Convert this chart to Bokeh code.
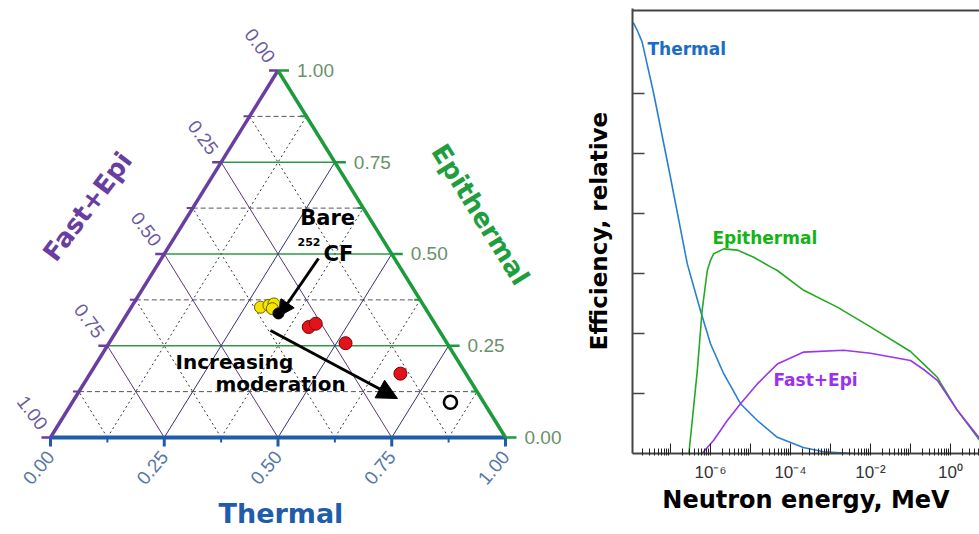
import numpy as np
from bokeh.plotting import figure
from bokeh.layouts import row
from bokeh.models import (Range1d, FixedTicker, CustomJSTickFormatter, Arrow,
                          NormalHead, Span, Label, LinearAxis, Title)
from bokeh.core.properties import value
from bokeh.embed import file_html
from bokeh.resources import INLINE

# ---------------- data ----------------
# ternary composition (fractions; fast+epi = 1 - thermal - epithermal)
yellow_thermal = [0.284, 0.300, 0.309, 0.312]
yellow_epithermal = [0.355, 0.360, 0.364, 0.351]
bare_thermal = [0.332]
bare_epithermal = [0.338]
red_thermal = [0.417, 0.428, 0.520, 0.682]
red_epithermal = [0.301, 0.310, 0.257, 0.174]
open_thermal = [0.831]
open_epithermal = [0.096]

tern_major = [0.0, 0.25, 0.5, 0.75, 1.0]
tern_major_labels = ["0.00", "0.25", "0.50", "0.75", "1.00"]
tern_minor = [0.125, 0.375, 0.625, 0.875]

# efficiency curves: log10(E / MeV) and relative efficiency
thermal_log_e = [-7.93, -7.83, -7.71, -7.42, -7.00, -6.58, -6.25, -6.00, -5.67,
                 -5.25, -4.83, -4.33, -3.68, -3.18, -2.43]
thermal_eff = [7.18, 7.05, 6.86, 6.00, 4.60, 3.16, 2.38, 1.83, 1.33,
               0.83, 0.55, 0.27, 0.10, 0.03, 0.0]
epi_log_e = [-6.54, -6.33, -6.21, -6.08, -6.00, -5.92, -5.67, -5.33, -4.92, -4.50,
             -4.33, -3.67, -2.83, -2.00, -1.00, -0.67, -0.33, 0.17, 0.73]
epi_eff = [0.0, 1.38, 2.38, 3.05, 3.22, 3.33, 3.41, 3.39, 3.27, 3.11,
           3.05, 2.72, 2.44, 2.11, 1.70, 1.49, 1.27, 0.72, 0.22]
fast_log_e = [-6.21, -5.92, -5.58, -5.25, -4.83, -4.33, -3.67, -2.67, -2.00,
              -1.00, -0.67, -0.33, 0.17, 0.73]
fast_eff = [0.0, 0.22, 0.55, 0.83, 1.16, 1.49, 1.69, 1.72, 1.67,
            1.55, 1.40, 1.22, 0.72, 0.25]

eff_ticks = [1, 2, 3, 4, 5, 6]
energy_label_exps = [-6, -4, -2, 0]
energy_labels = ["10\u207b\u2076", "10\u207b\u2074", "10\u207b\u00b2", "10\u2070"]
energy_unlabeled_exps = [-7, -5, -3, -1]
energy_all_exps = [-8, -7, -6, -5, -4, -3, -2, -1, 0]

# ---------------- layout constants ----------------
H = 534
TOP, BOTTOM = 8, 81            # frame borders shared by both plots (row aligns frames)
FRAME_H = H - TOP - BOTTOM

# ---------------- ternary figure ----------------
W1 = 575
XR = (-0.10989, 1.15385)
YR = (-0.0436, 1.1689)
DX = (XR[1] - XR[0]) / W1
DY = (YR[1] - YR[0]) / FRAME_H

p1 = figure(width=W1, height=H, x_range=Range1d(*XR), y_range=Range1d(*YR),
            x_axis_location=None, y_axis_location=None, toolbar_location=None,
            output_backend="svg", min_border_left=0, min_border_right=0,
            min_border_top=TOP, min_border_bottom=BOTTOM)
p1.outline_line_color = None
p1.grid.visible = False


def txy(t, e):
    t = np.asarray(t, float)
    e = np.asarray(e, float)
    return t + 0.5 * e, e


mn = np.array(tern_minor)
inner = np.array(tern_major[1:-1])
zm = np.zeros_like(mn)
zi = np.zeros_like(inner)

# minor grid
p1.segment(0.5 * mn, mn, 1 - 0.5 * mn, mn, line_color="#555555", line_dash="5 3", line_width=1)
p1.segment(mn, zm, 0.5 + 0.5 * mn, 1 - mn, line_color="#333333", line_dash="2 3", line_width=1)
p1.segment(1 - mn, zm, 0.5 * (1 - mn), 1 - mn, line_color="#333333", line_dash="2 3", line_width=1)
# major grid
p1.segment(0.5 * inner, inner, 1 - 0.5 * inner, inner, line_color="#2e9a46", line_width=1.5)
p1.segment(inner, zi, 0.5 + 0.5 * inner, 1 - inner, line_color="#34347a", line_width=1)
p1.segment(1 - inner, zi, 0.5 * (1 - inner), 1 - inner, line_color="#5a357f", line_width=1)

# edges
C_TH, C_EPI, C_FAST = "#1f5cab", "#1c9a3c", "#6a3ea1"
p1.line([0, 1], [0, 0], line_color=C_TH, line_width=4)
p1.line([0, 0.5], [0, 1], line_color=C_FAST, line_width=3.5)
p1.line([1, 0.5], [0, 1], line_color=C_EPI, line_width=3.5)

tm = np.array(tern_major)
# bottom ticks (thermal)
p1.segment(tm, tm * 0, tm, tm * 0 - 9 * DY, line_color=C_TH, line_width=3)
p1.segment(mn, zm, mn, zm - 5 * DY, line_color=C_TH, line_width=2)
# right ticks (epithermal)
ex = 1 - 0.5 * tm
p1.segment(ex, tm, ex + 11 * DX, tm, line_color=C_EPI, line_width=2.5)
p1.segment(1 - 0.5 * mn, mn, 1 - 0.5 * mn - 6 * DX, mn, line_color=C_EPI, line_width=2)
# left ticks (fast+epi)
fx, fy = 0.5 * (1 - tm), 1 - tm
p1.segment(fx, fy, fx - 9 * DX, fy, line_color=C_FAST, line_width=2.5)
p1.segment(0.5 * (1 - mn), 1 - mn, 0.5 * (1 - mn) - 6 * DX, 1 - mn, line_color=C_FAST, line_width=2)

LF = value("Liberation Sans")
BF = value("DejaVu Sans")

# thermal tick labels + title: an axis below the ternary frame (border area is not clipped)
th_axis = LinearAxis(ticker=FixedTicker(ticks=tern_major),
                     formatter=CustomJSTickFormatter(args=dict(vals=tern_major, labs=tern_major_labels), code="""
let best = 0;
for (let i = 0; i < vals.length; i++) { if (Math.abs(vals[i] - tick) < Math.abs(vals[best] - tick)) best = i; }
return labs[best];
"""))
th_axis.axis_line_color = None
th_axis.major_tick_in = 0
th_axis.major_tick_out = 0
th_axis.minor_tick_in = 0
th_axis.minor_tick_out = 0
th_axis.major_label_orientation = float(np.deg2rad(50))
th_axis.major_label_standoff = 0
th_axis.major_label_text_color = "#5877a8"
th_axis.major_label_text_font = "Liberation Sans"
th_axis.major_label_text_font_size = "19px"
p1.add_layout(th_axis, "below")
p1.add_layout(Title(text="Thermal", align="left", offset=218, standoff=5,
                    text_color=C_TH, text_font="DejaVu Sans", text_font_style="bold",
                    text_font_size="27px"), "below")

p1.text(x=ex + 19 * DX, y=tm, text=tern_major_labels,
        text_align="left", text_baseline="middle", text_color="#6a916a",
        text_font=LF, text_font_size="19px")
p1.text(x=fx - 7 * DX, y=fy + 10 * DY, text=tern_major_labels, angle=np.deg2rad(-53),
        text_align="right", text_baseline="middle", text_color="#6b5b9e",
        text_font=LF, text_font_size="19px")

# axis titles
p1.text(x=[0.0813], y=[0.6294], text=["Fast+Epi"], angle=np.deg2rad(53),
        text_align="center", text_baseline="middle", text_color=C_FAST,
        text_font=BF, text_font_style="bold", text_font_size="26px")
p1.text(x=[0.945], y=[0.6076], text=["Epithermal"], angle=np.deg2rad(-58),
        text_align="center", text_baseline="middle", text_color="#1f9e3e",
        text_font=BF, text_font_style="bold", text_font_size="26px")

# arrows
p1.add_layout(Arrow(end=NormalHead(size=16, fill_color="black", line_color="black"),
                    x_start=0.589, y_start=0.4877, x_end=0.5011, y_end=0.3297,
                    line_width=3, line_color="black"))
p1.add_layout(Arrow(end=NormalHead(size=20, fill_color="black", line_color="black"),
                    x_start=0.4835, y_start=0.2916, x_end=0.7626, y_end=0.1063,
                    line_width=3, line_color="black"))

# points
x, y = txy(yellow_thermal, yellow_epithermal)
p1.scatter(x, y, size=12, fill_color="#f5e400", line_color="#6b6200", line_width=1)
x, y = txy(bare_thermal, bare_epithermal)
p1.scatter(x, y, size=11, fill_color="black", line_color="black")
x, y = txy(red_thermal, red_epithermal)
p1.scatter(x, y, size=13, fill_color="#e3121b", line_color="#7a0000", line_width=1)
x, y = txy(open_thermal, open_epithermal)
p1.scatter(x, y, size=13, fill_color="white", line_color="black", line_width=2.6)

# annotations
for tx, ty, tt, fs in [(0.549, 0.597, "Bare", "21px"), (0.543, 0.534, "252", "11px"),
                       (0.600, 0.499, "CF", "21px"), (0.2747, 0.2044, "Increasing", "20px"),
                       (0.3626, 0.1471, "moderation", "20px")]:
    p1.text(x=[tx], y=[ty], text=[tt], text_align="left", text_baseline="middle",
            text_color="black", text_font=BF, text_font_style="bold", text_font_size=fs)

# ---------------- efficiency figure ----------------
W2 = 979 - W1
PX_PER_UNIT = 60.0
X0_LOG = -7.95
PX_PER_DECADE = 40.0
FRAME_W2 = W2 - 57
y_top = FRAME_H / PX_PER_UNIT
x_lo, x_hi = 10 ** X0_LOG, 10 ** (X0_LOG + FRAME_W2 / PX_PER_DECADE)

p2 = figure(width=W2, height=H, x_axis_type="log",
            x_range=Range1d(x_lo, x_hi), y_range=Range1d(0, y_top),
            min_border_left=57, min_border_right=0, min_border_top=TOP, min_border_bottom=BOTTOM,
            toolbar_location=None, output_backend="svg")
p2.outline_line_color = None
p2.grid.visible = False

p2.line(10 ** np.array(thermal_log_e), thermal_eff, line_color="#2a7fd0", line_width=1.6)
p2.line(10 ** np.array(epi_log_e), epi_eff, line_color="#22aa22", line_width=1.6)
p2.line(10 ** np.array(fast_log_e), fast_eff, line_color="#9b35ee", line_width=1.6)

# top frame line
p2.add_layout(Span(location=y_top - 2 / PX_PER_UNIT, dimension="width",
                   line_color="#444444", line_width=2))

# y ticks (inward, unlabeled)
tick_x1 = x_lo * 10 ** (12 / PX_PER_DECADE)
p2.segment([x_lo] * len(eff_ticks), eff_ticks, [tick_x1] * len(eff_ticks), eff_ticks,
           line_color="#444444", line_width=1.5)
# unlabeled decade ticks
ud = [10.0 ** k for k in energy_unlabeled_exps]
p2.segment(ud, [0] * len(ud), ud, [10 / PX_PER_UNIT] * len(ud), line_color="#222222", line_width=1)

xa = p2.xaxis[0]
xa.ticker = FixedTicker(ticks=[10.0 ** k for k in energy_label_exps],
                        minor_ticks=[m * 10.0 ** k for k in energy_all_exps for m in range(2, 10)])
xa.formatter = CustomJSTickFormatter(args=dict(exps=energy_label_exps, labs=energy_labels), code="""
const e = Math.round(Math.log10(tick));
const i = exps.indexOf(e);
return i >= 0 ? labs[i] : String(tick);
""")
xa.major_tick_in = 10
xa.major_tick_out = 2
xa.minor_tick_in = 5
xa.minor_tick_out = 2
xa.axis_line_width = 2
xa.axis_line_color = "#444444"
xa.major_tick_line_color = "#222222"
xa.minor_tick_line_color = "#222222"
xa.major_label_text_font = "Liberation Sans"
xa.major_label_text_font_size = "17px"
xa.major_label_text_color = "#333333"
xa.major_label_standoff = 7
xa.axis_label = "Neutron energy, MeV"
xa.axis_label_text_font = "DejaVu Sans"
xa.axis_label_text_font_style = "bold"
xa.axis_label_text_font_size = "24px"
xa.axis_label_text_color = "black"
xa.axis_label_standoff = 1

ya = p2.yaxis[0]
ya.ticker = FixedTicker(ticks=[])
ya.major_tick_in = 0
ya.major_tick_out = 0
ya.minor_tick_in = 0
ya.minor_tick_out = 0
ya.major_label_standoff = 0
ya.axis_line_width = 2
ya.axis_line_color = "#444444"
ya.axis_label = "Efficiency, relative"
ya.axis_label_text_font = "DejaVu Sans"
ya.axis_label_text_font_style = "bold"
ya.axis_label_text_font_size = "23px"
ya.axis_label_text_color = "black"
ya.axis_label_standoff = 21

for lx, ly, lt, lc in [(10 ** -7.575, 6.75, "Thermal", "#1a6cc4"),
                       (10 ** -5.95, 3.60, "Epithermal", "#14b414"),
                       (10 ** -4.425, 1.233, "Fast+Epi", "#9b30f0")]:
    p2.add_layout(Label(x=lx, y=ly, text=lt, text_color=lc, text_align="left",
                        text_baseline="middle", text_font="DejaVu Sans",
                        text_font_style="bold", text_font_size="17px"))

layout = row(p1, p2)
open("out.html", "w").write(file_html(layout, INLINE))
